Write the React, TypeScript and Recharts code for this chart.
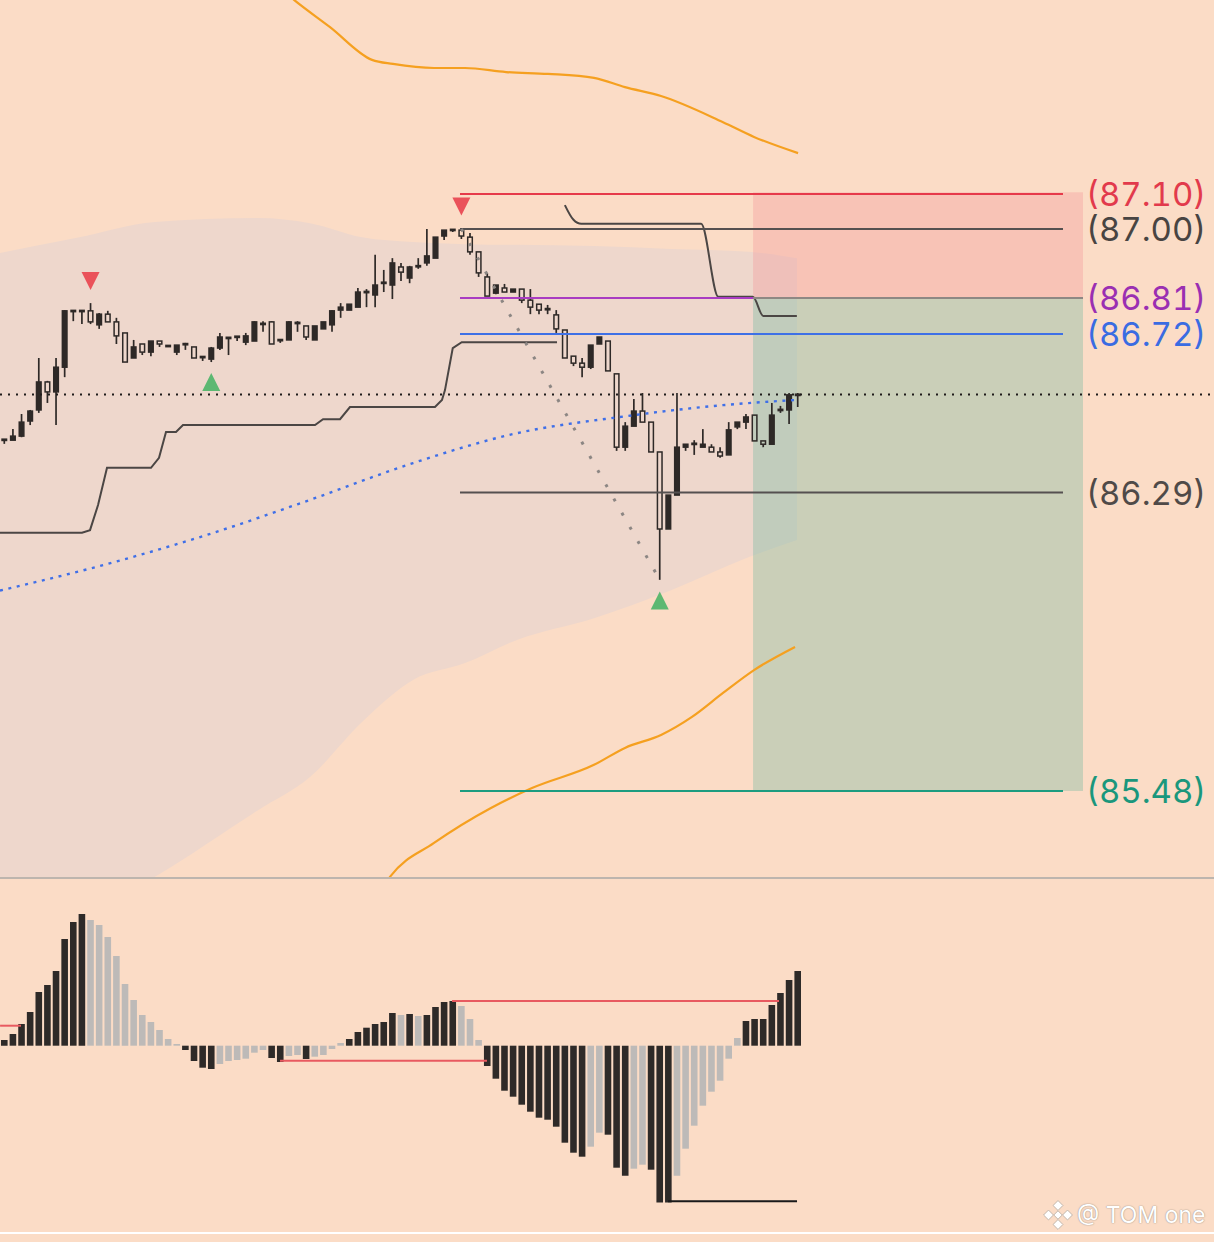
import React from 'react';
import { ComposedChart, Bar, Line, Area, Scatter, XAxis, YAxis, ReferenceLine, ReferenceArea, Cell } from 'recharts';

// candles: [open, high, low, close]
const ohlc: [number, number, number, number][] = [
  [86.432, 86.435, 86.422, 86.434], [86.432, 86.462, 86.432, 86.443], [86.443, 86.503, 86.440, 86.481],
  [86.484, 86.514, 86.473, 86.511], [86.514, 86.655, 86.506, 86.590], [86.590, 86.593, 86.533, 86.563],
  [86.563, 86.655, 86.473, 86.630], [86.630, 86.785, 86.603, 86.783], [86.783, 86.785, 86.755, 86.782],
  [86.783, 86.785, 86.747, 86.782], [86.783, 86.804, 86.747, 86.753], [86.745, 86.777, 86.734, 86.774],
  [86.774, 86.783, 86.753, 86.753], [86.753, 86.764, 86.693, 86.715], [86.723, 86.723, 86.644, 86.644],
  [86.655, 86.704, 86.655, 86.685], [86.693, 86.693, 86.663, 86.671], [86.671, 86.701, 86.660, 86.701],
  [86.701, 86.701, 86.685, 86.693], [86.685, 86.690, 86.685, 86.690], [86.671, 86.690, 86.663, 86.690],
  [86.693, 86.696, 86.677, 86.692], [86.685, 86.685, 86.655, 86.655], [86.655, 86.660, 86.647, 86.660],
  [86.652, 86.685, 86.644, 86.682], [86.682, 86.723, 86.677, 86.712], [86.707, 86.712, 86.663, 86.712],
  [86.713, 86.715, 86.701, 86.712], [86.698, 86.723, 86.690, 86.715], [86.701, 86.755, 86.701, 86.753],
  [86.747, 86.755, 86.726, 86.748], [86.753, 86.755, 86.693, 86.693], [86.704, 86.704, 86.696, 86.703],
  [86.704, 86.755, 86.704, 86.753], [86.753, 86.755, 86.726, 86.747], [86.742, 86.742, 86.704, 86.712],
  [86.704, 86.742, 86.704, 86.742], [86.734, 86.753, 86.734, 86.753], [86.745, 86.785, 86.726, 86.783],
  [86.785, 86.804, 86.764, 86.793], [86.785, 86.801, 86.785, 86.801], [86.793, 86.845, 86.793, 86.834],
  [86.833, 86.842, 86.793, 86.835], [86.826, 86.935, 86.793, 86.853], [86.858, 86.894, 86.834, 86.860],
  [86.853, 86.926, 86.815, 86.913], [86.902, 86.913, 86.864, 86.888], [86.872, 86.905, 86.858, 86.902],
  [86.903, 86.926, 86.897, 86.905], [86.913, 87.005, 86.905, 86.932], [86.926, 86.983, 86.926, 86.983],
  [86.986, 87.002, 86.975, 87.002], [87.002, 87.005, 86.997, 87.003], [87.002, 87.005, 86.978, 86.986],
  [86.983, 86.994, 86.935, 86.943], [86.943, 86.943, 86.875, 86.886], [86.875, 86.886, 86.823, 86.823],
  [86.831, 86.853, 86.828, 86.853], [86.845, 86.856, 86.834, 86.834], [86.834, 86.842, 86.834, 86.842],
  [86.842, 86.842, 86.804, 86.812], [86.812, 86.842, 86.774, 86.793], [86.801, 86.801, 86.774, 86.785],
  [86.788, 86.799, 86.774, 86.787], [86.772, 86.785, 86.723, 86.734], [86.731, 86.731, 86.655, 86.655],
  [86.660, 86.660, 86.633, 86.641], [86.641, 86.655, 86.603, 86.630], [86.630, 86.690, 86.625, 86.690],
  [86.693, 86.712, 86.693, 86.712], [86.701, 86.701, 86.620, 86.620], [86.612, 86.612, 86.403, 86.413],
  [86.413, 86.481, 86.403, 86.470], [86.470, 86.544, 86.470, 86.511], [86.511, 86.560, 86.481, 86.481],
  [86.481, 86.481, 86.400, 86.400], [86.400, 86.400, 86.053, 86.191], [86.191, 86.283, 86.191, 86.283],
  [86.283, 86.560, 86.283, 86.413], [86.413, 86.421, 86.403, 86.421], [86.421, 86.432, 86.392, 86.423],
  [86.413, 86.462, 86.413, 86.421], [86.413, 86.421, 86.400, 86.400], [86.400, 86.413, 86.384, 86.389],
  [86.392, 86.481, 86.392, 86.460], [86.468, 86.481, 86.462, 86.481], [86.481, 86.503, 86.462, 86.495],
  [86.500, 86.500, 86.430, 86.430], [86.430, 86.430, 86.413, 86.421], [86.421, 86.533, 86.421, 86.500],
  [86.513, 86.525, 86.506, 86.515], [86.514, 86.560, 86.476, 86.555], [86.554, 86.560, 86.522, 86.556],
];

// oscillator histogram, one per candle
const histValues = [
  5.7, 11.7, 21.7, 33.7, 53.7, 60.7, 74.7, 106.7, 123.7, 131.7,
  125.7, 120.7, 108.7, 89.7, 61.7, 45.7, 30.7, 23.7, 15.7, 6.7,
  1.7, -4.3, -15.3, -22, -23.3, -18.3, -15.3, -14.3, -13, -7,
  -4.3, -12.3, -16.3, -10.3, -9.3, -13.3, -11, -9.3, -3.3, 2.7,
  6.7, 13.7, 18, 21.7, 23.7, 32.7, 30.7, 31.7, 29.7, 30.7,
  38.7, 43.7, 44.7, 39.7, 26.7, 5.7, -20.3, -33, -45, -51,
  -59, -66, -72, -74, -81, -97, -107, -111, -101, -87,
  -89, -122, -130, -123, -119, -124, -156.7, -156.7, -130, -103,
  -80, -60, -46, -35, -13, 7.7, 24.7, 26.7, 26.7, 40.7,
  52.7, 65.7, 74.7,
];

// envelope band (grey fill)
const bandIdx = [-0.5, 8.43, 17.47, 29.42, 35.45, 41.48, 47.39, 53.42, 59.45, 68.38, 77.31, 86.35, 91.92];
const bandHigh = [86.940, 86.981, 87.024, 87.035, 87.021, 86.983, 86.970, 86.964, 86.962, 86.959, 86.951, 86.943, 86.926];
const bandLow = [85.021, 85.130, 85.247, 85.428, 85.518, 85.667, 85.781, 85.827, 85.890, 85.949, 86.025, 86.115, 86.161];

// outer orange bands
const orangeUp = [
  { i: 31.97, p: 87.659 }, { i: 33.59, p: 87.627 }, { i: 37.77, p: 87.553 }, { i: 42.64, p: 87.464 },
  { i: 45.07, p: 87.453 }, { i: 49.83, p: 87.442 }, { i: 53.42, p: 87.442 }, { i: 58.18, p: 87.431 },
  { i: 63.04, p: 87.426 }, { i: 68.38, p: 87.415 }, { i: 71.97, p: 87.390 }, { i: 76.15, p: 87.366 },
  { i: 83.34, p: 87.295 }, { i: 86.93, p: 87.255 }, { i: 92.04, p: 87.211 },
];
const orangeDown = [
  { i: 43.33, p: 85.198 }, { i: 44.72, p: 85.247 }, { i: 49.83, p: 85.339 }, { i: 56.43, p: 85.434 },
  { i: 61.19, p: 85.488 }, { i: 68.38, p: 85.551 }, { i: 71.97, p: 85.597 }, { i: 76.15, p: 85.632 },
  { i: 79.74, p: 85.681 }, { i: 83.34, p: 85.746 }, { i: 86.93, p: 85.808 }, { i: 91.69, p: 85.871 },
];

// moving average (blue dotted)
const maLine = [
  { i: -0.5, p: 86.024 }, { i: 11.45, p: 86.093 }, { i: 23.5, p: 86.175 }, { i: 35.45, p: 86.270 },
  { i: 47.4, p: 86.370 }, { i: 59.45, p: 86.451 }, { i: 71.4, p: 86.495 }, { i: 83.3, p: 86.527 },
  { i: 91.7, p: 86.541 },
];

// trailing stop steps
const trailLow = [
  { i: -0.5, p: 86.181 }, { i: 9.01, p: 86.181 }, { i: 9.94, p: 86.188 }, { i: 10.87, p: 86.256 },
  { i: 11.91, p: 86.357 }, { i: 17.01, p: 86.357 }, { i: 17.94, p: 86.384 }, { i: 18.75, p: 86.454 },
  { i: 19.91, p: 86.454 }, { i: 20.72, p: 86.473 }, { i: 36.03, p: 86.473 }, { i: 36.96, p: 86.489 },
  { i: 38.93, p: 86.489 }, { i: 40.08, p: 86.522 }, { i: 49.94, p: 86.522 }, { i: 50.75, p: 86.541 },
  { i: 51.1, p: 86.568 }, { i: 52.0, p: 86.682 }, { i: 53.04, p: 86.698 }, { i: 64.09, p: 86.698 },
];
const trailHigh = [
  { i: 65.0, p: 87.070 }, { i: 66.0, p: 87.030 }, { i: 66.9, p: 87.019 }, { i: 80.8, p: 87.019 },
  { i: 82.8, p: 86.821 }, { i: 86.8, p: 86.821 }, { i: 88.0, p: 86.769 }, { i: 91.9, p: 86.769 },
];

const pivots = [
  { i: 10, p: 86.864, dir: 'down' }, { i: 53, p: 87.066, dir: 'down' },
  { i: 24, p: 86.590, dir: 'up' }, { i: 76, p: 85.997, dir: 'up' },
];

const levels = [
  { label: '(87.10)', price: 87.10, line: '#E63A4A', text: '#E23A4C' },
  { label: '(87.00)', price: 87.005, line: '#555050', text: '#484442' },
  { label: '(86.81)', price: 86.818, line: '#A93CC2', text: '#9A2FB2' },
  { label: '(86.72)', price: 86.72, line: '#3E70E6', text: '#3A6CE2' },
  { label: '(86.29)', price: 86.29, line: '#555050', text: '#4F4A48' },
  { label: '(85.48)', price: 85.48, line: '#1B9C80', text: '#1A977C' },
];

const histLevels = [
  { y: 20, from: -0.49, to: 1.94, color: '#E85A60' },
  { y: -15, from: 31.97, to: 55.97, color: '#E85A60' },
  { y: 44.7, from: 51.92, to: 89.83, color: '#E85A60' },
  { y: -155.6, from: 76.96, to: 91.92, color: '#1a1a1a' },
];

const X_DOMAIN: [number, number] = [-0.4986, 140.27];
const P_DOMAIN: [number, number] = [85.2466, 87.6265];
const H_DOMAIN: [number, number] = [-187.3, 167.7];
const BG = '#FBDCC6';
const INK = '#2E2927';

const candles = ohlc.map(([o, h, l, c], i) => ({ i, o, h, l, c }));
const band = bandIdx.map((i, k) => ({ i, lo: bandLow[k], hi: bandHigh[k] }));
const hist = histValues.map((v, i) => ({
  i,
  v,
  strong: i === 0 || Math.abs(v) >= Math.abs(histValues[i - 1]),
}));
const lastClose = ohlc[ohlc.length - 1][3];
const levelFrom = 52.84;
const levelTo = 122.76;
const boxFrom = 86.82;
const boxTo = 125.08;

const CandleShape = (props: any) => {
  const { x, width, payload } = props;
  let { y, height } = props;
  if (height < 0) { y += height; height = -height; }
  const { o, h, l, c } = payload;
  const k = height / (h - l);
  const cx = x + width / 2;
  const yO = y + (h - o) * k;
  const yC = y + (h - c) * k;
  const top = Math.min(yO, yC);
  const bot = Math.max(yO, yC);
  const bw = 4.6;
  if (bot - top < 2.6) {
    const mid = (top + bot) / 2;
    return (
      <g>
        <line x1={cx} x2={cx} y1={y} y2={y + height} stroke={INK} strokeWidth={1.7} />
        <rect x={cx - bw / 2 - 0.7} y={mid - 1.4} width={bw + 1.4} height={2.8} fill={INK} />
      </g>
    );
  }
  const up = c > o;
  return (
    <g>
      <line x1={cx} x2={cx} y1={y} y2={top} stroke={INK} strokeWidth={1.7} />
      <line x1={cx} x2={cx} y1={bot} y2={y + height} stroke={INK} strokeWidth={1.7} />
      <rect x={cx - bw / 2} y={top} width={bw} height={bot - top} fill={up ? INK : 'none'} stroke={INK} strokeWidth={1.5} />
    </g>
  );
};

const Triangle = (props: any) => {
  const { cx, cy, payload } = props;
  const s = 9;
  const pts = payload.dir === 'down'
    ? `${cx - s},${cy - s} ${cx + s},${cy - s} ${cx},${cy + s}`
    : `${cx - s},${cy + s} ${cx + s},${cy + s} ${cx},${cy - s}`;
  return <polygon points={pts} fill={payload.dir === 'down' ? '#EA525A' : '#5DB872'} />;
};

const levelLabel = (text: string, color: string) => (props: any) => {
  const vb = props.viewBox || {};
  return (
    <text x={vb.x + vb.width + 23} y={vb.y} dominantBaseline="central" fill={color}
      style={{ fontFamily: 'Inter, "Noto Sans", sans-serif', fontSize: 33, fontVariantNumeric: 'tabular-nums' }}>
      {text}
    </text>
  );
};

const Watermark = () => (
  <div style={{ position: 'absolute', left: 1042, top: 1199, display: 'flex', alignItems: 'center', gap: 3, whiteSpace: 'nowrap' }}>
    <svg width={32} height={32} viewBox="0 0 32 32">
      <g fill="#fff" stroke="#bfb2a7" strokeWidth={0.9}>
        <rect x={12.5} y={3} width={7} height={7} transform="rotate(45 16 6.5)" />
        <rect x={3} y={12.5} width={7} height={7} transform="rotate(45 6.5 16)" />
        <rect x={22} y={12.5} width={7} height={7} transform="rotate(45 25.5 16)" />
        <rect x={12.5} y={22} width={7} height={7} transform="rotate(45 16 25.5)" />
        <rect x={13} y={13} width={6} height={6} transform="rotate(45 16 16)" />
      </g>
    </svg>
    <span style={{ fontFamily: 'Inter, "Noto Sans", sans-serif', fontSize: 23, lineHeight: '30px', color: '#fff', textShadow: '0 0 1.5px #a89a8f, 0 0 1px #a89a8f' }}>
      @ TOM one
    </span>
  </div>
);

export default function App() {
  return (
    <div style={{ position: 'absolute', left: 0, top: 0, width: 1214, height: 1242, background: BG, overflow: 'hidden' }}>
      <ComposedChart width={1214} height={877} data={candles} margin={{ top: 0, right: 0, bottom: 0, left: 0 }}>
        <XAxis dataKey="i" type="number" domain={X_DOMAIN} hide allowDataOverflow />
        <YAxis type="number" domain={P_DOMAIN} hide allowDataOverflow />
        <Area data={band} dataKey={(d: any) => [d.lo, d.hi]} type="monotone" stroke="none" fill="#EED7CC" fillOpacity={1} isAnimationActive={false} />
        <ReferenceArea x1={boxFrom} x2={boxTo} y1={86.818} y2={87.105} fill="rgb(241,140,145)" fillOpacity={0.3} stroke="none" ifOverflow="visible" />
        <ReferenceArea x1={boxFrom} x2={boxTo} y1={85.48} y2={86.818} fill="rgb(88,180,151)" fillOpacity={0.3} stroke="none" ifOverflow="visible" />
        <Line data={orangeUp} dataKey="p" type="monotone" stroke="#F5A020" strokeWidth={2.2} dot={false} isAnimationActive={false} />
        <Line data={orangeDown} dataKey="p" type="monotone" stroke="#F5A020" strokeWidth={2.2} dot={false} isAnimationActive={false} />
        <Line data={maLine} dataKey="p" type="monotone" stroke="#3F6FE8" strokeWidth={2.4} strokeDasharray="3 5.6" dot={false} isAnimationActive={false} />
        <Line data={trailLow} dataKey="p" type="linear" stroke="#4B4644" strokeWidth={2} dot={false} isAnimationActive={false} />
        <Line data={trailHigh} dataKey="p" type="monotone" stroke="#4B4644" strokeWidth={2} dot={false} isAnimationActive={false} />
        {levels.map((lv) => (
          <ReferenceLine key={lv.label} segment={[{ x: levelFrom, y: lv.price }, { x: levelTo, y: lv.price }]}
            stroke={lv.line} strokeWidth={2} ifOverflow="visible" label={levelLabel(lv.label, lv.text)} />
        ))}
        <ReferenceLine segment={[{ x: boxFrom, y: 86.818 }, { x: boxTo, y: 86.818 }]} stroke="#8E8884" strokeWidth={2} ifOverflow="visible" />
        <ReferenceLine segment={[{ x: 53, y: ohlc[53][1] }, { x: 76, y: ohlc[76][2] }]} stroke="#8C8683" strokeWidth={3} strokeDasharray="3 13.3" ifOverflow="visible" />
        <Bar dataKey={(d: any) => [d.l, d.h]} barSize={6} shape={CandleShape} isAnimationActive={false} />
        <ReferenceLine y={lastClose} stroke="#1E1B1A" strokeWidth={2} strokeDasharray="2 6" ifOverflow="visible" />
        <Scatter data={pivots} dataKey="p" shape={Triangle} isAnimationActive={false} />
      </ComposedChart>
      <div style={{ position: 'absolute', left: 0, top: 877, width: 1214, height: 1.5, background: '#BDB5AE' }} />
      <div style={{ position: 'absolute', left: 0, top: 878 }}>
        <ComposedChart width={1214} height={355} data={hist} margin={{ top: 0, right: 0, bottom: 0, left: 0 }}>
          <XAxis dataKey="i" type="number" domain={X_DOMAIN} hide allowDataOverflow />
          <YAxis type="number" domain={H_DOMAIN} hide allowDataOverflow />
          <Bar dataKey="v" barSize={6.6} isAnimationActive={false}>
            {hist.map((d) => (
              <Cell key={d.i} fill={d.strong ? '#2E2A28' : '#BDBAB8'} />
            ))}
          </Bar>
          {histLevels.map((hl, k) => (
            <ReferenceLine key={k} segment={[{ x: hl.from, y: hl.y }, { x: hl.to, y: hl.y }]} stroke={hl.color} strokeWidth={2} ifOverflow="visible" />
          ))}
        </ComposedChart>
      </div>
      <div style={{ position: 'absolute', left: 0, top: 1232, width: 1214, height: 2, background: '#FFFFFF' }} />
      <Watermark />
    </div>
  );
}
